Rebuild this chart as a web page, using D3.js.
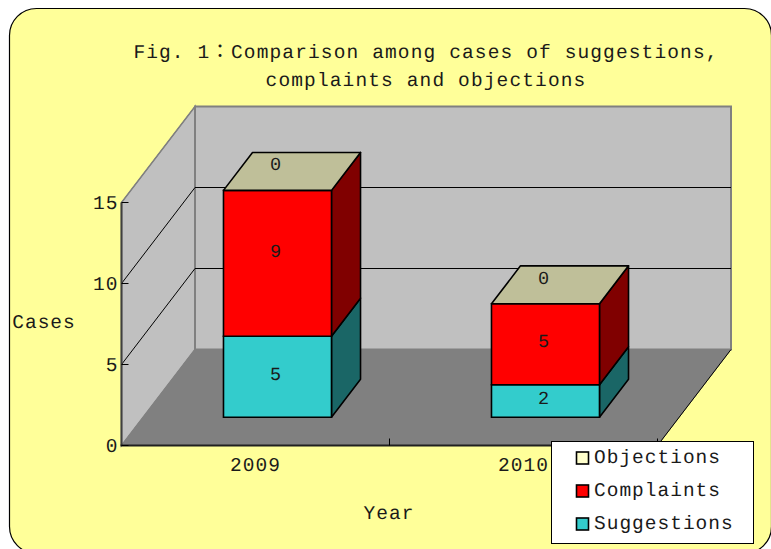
<!DOCTYPE html>
<html lang="zh-Hant"><head><meta charset="utf-8">
<script src="https://cdnjs.cloudflare.com/ajax/libs/d3/7.8.5/d3.min.js"></script>
<style>html,body{margin:0;padding:0;background:#fff}svg{display:block}text{font-family:"Liberation Mono","Noto Sans CJK TC",monospace;fill:#1a1a1a;text-rendering:geometricPrecision}</style>
</head><body><svg id="c" width="771" height="549"></svg>
<script>
const categories = ["2009","2010"];
const seriesNames = ["Suggestions","Complaints","Objections"];
const suggestions = [5,2];
const complaints = [9,5];
const objections = [0,0];
const yTicks = [0,5,10,15];
const titleLines = ["Fig. 1：Comparison among cases of suggestions,","complaints and objections"];
const fillColors = ["#33CCCC","#FF0000","#FFFFCC"];
const sideColors = ["#1A6666","#800000","#808066"];
const topColors = ["#26999A","#BF0000","#BFBF99"];

const svg = d3.select("#c");
const x = d3.scaleBand().domain(categories).range([121.5,657.5]);
const y = d3.scaleLinear().domain([0,15]).range([445.5,202.5]);
const zx = d3.scaleLinear().domain([0,1]).range([0,73.5]);
const zy = d3.scaleLinear().domain([0,1]).range([0,-96]);
const P = (px,v,z)=>[px+zx(z), y(v)+zy(z)];
const line = pts => "M"+pts.map(p=>p.join(",")).join("L")+"Z";
const [xL,xR] = x.range();
const mono = sel => sel.attr("font-size",19.5).attr("letter-spacing",1);

svg.append("rect").attr("x",9.5).attr("y",8.5).attr("width",762).attr("height",545).attr("rx",27).attr("ry",27)
  .attr("fill","#FFFF99").attr("stroke","#000").attr("stroke-width",1.2);

// walls
svg.append("path").attr("d",line([P(xL,0,0),P(xL,15,0),P(xL,15,1),P(xL,0,1)])).attr("fill","#C0C0C0").attr("stroke","#808080").attr("stroke-width",1.5);
svg.append("path").attr("d",line([P(xL,0,1),P(xL,15,1),P(xR,15,1),P(xR,0,1)])).attr("fill","#C0C0C0").attr("stroke","#808080").attr("stroke-width",2);
svg.append("path").attr("d",line([P(xL,0,0),P(xL,0,1),P(xR,0,1),P(xR,0,0)])).attr("fill","#808080").attr("stroke","#808080");
svg.append("path").attr("d","M"+P(xR,0,0)+"L"+P(xR,0,1)).attr("stroke","#000").attr("fill","none");

// gridlines
yTicks.filter(t=>t>0 && t<15).forEach(t=>{
  svg.append("path").attr("d","M"+P(xL,t,0)+"L"+P(xL,t,1)+"L"+P(xR,t,1)).attr("fill","none").attr("stroke","#000").attr("stroke-width",1);
});
svg.append("path").attr("d","M"+P(xL,15,0)+"L"+P(xL,15,1)).attr("fill","none").attr("stroke","#808080").attr("stroke-width",1);

// axes
svg.append("path").attr("d",`M${xL},${y(15)}L${xL},${y(0)}`).attr("stroke","#404040").attr("stroke-width",2);
svg.append("path").attr("d",`M${xL-1},${y(0)}L${xR},${y(0)}`).attr("stroke","#202020").attr("stroke-width",2);
yTicks.forEach(t=>{
  svg.append("path").attr("d",`M${xL},${y(t)}h7`).attr("stroke","#000").attr("stroke-width",1);
  mono(svg.append("text")).attr("x",xL-3).attr("y",y(t)+6).attr("text-anchor","end").text(t);
});
svg.append("path").attr("d",`M${(xL+xR)/2},${y(0)}v-7M${xR},${y(0)}v-7`).attr("stroke","#000");
categories.forEach(c=>{
  mono(svg.append("text")).attr("x",x(c)+x.bandwidth()/2).attr("y",471).attr("text-anchor","middle").text(c);
});

// stacked bars
const barW = x.bandwidth()*0.403, z0=0.295, z1=0.69;
const seriesVals = [suggestions,complaints,objections];
categories.forEach((c,i)=>{
  const xa = x(c)+(x.bandwidth()-barW)/2+0.3, xb = xa+barW;
  let base = 0;
  seriesVals.forEach((vals,s)=>{
    const v = vals[i], top = base+v;
    if(v>0){
      svg.append("path").attr("d",line([P(xb,base,z0),P(xb,top,z0),P(xb,top,z1),P(xb,base,z1)])).attr("fill",sideColors[s]).attr("stroke","#000").attr("stroke-width",1.6).attr("stroke-linejoin","round");
      svg.append("path").attr("d",line([P(xa,base,z0),P(xa,top,z0),P(xb,top,z0),P(xb,base,z0)])).attr("fill",fillColors[s]).attr("stroke","#000").attr("stroke-width",1.6);
    } else {
      svg.append("path").attr("d",line([P(xa,top,z0),P(xa,top,z1),P(xb,top,z1),P(xb,top,z0)])).attr("fill",topColors[s]).attr("stroke","#000").attr("stroke-width",1.6).attr("stroke-linejoin","round");
    }
    base = top;
  });
  // value labels, nudged from each face's centre
  base = 0;
  const cx = (xa+xb)/2;
  seriesVals.forEach((vals,s)=>{
    const v = vals[i], mid = base+v/2;
    const p = P(cx,mid,z0);
    const nudge = v===0 ? -26 : (v===9 ? -12 : -3);
    svg.append("text").attr("x",p[0]-2).attr("y",p[1]+nudge+6).attr("text-anchor","middle").attr("font-size",18.5).text(v);
    base += v;
  });
});

// titles
mono(svg.append("g").selectAll("text").data(titleLines).join("text")).attr("letter-spacing",1.13)
  .attr("x",426).attr("y",(d,i)=>58+i*28).attr("text-anchor","middle").text(d=>d);
mono(svg.append("text")).attr("x",44).attr("y",328).attr("text-anchor","middle").text("Cases");
mono(svg.append("text")).attr("x",389).attr("y",519).attr("text-anchor","middle").text("Year");

// legend
svg.append("rect").attr("x",551.5).attr("y",441.5).attr("width",202).attr("height",102).attr("fill","#fff").attr("stroke","#000");
[2,1,0].forEach((s,i)=>{
  const ly = 452+i*33;
  svg.append("rect").attr("x",576.5).attr("y",ly).attr("width",12).attr("height",12).attr("fill",fillColors[s]).attr("stroke","#000").attr("stroke-width",1.6);
  mono(svg.append("text")).attr("x",594).attr("y",ly+11).text(seriesNames[s]);
});
</script></body></html>
